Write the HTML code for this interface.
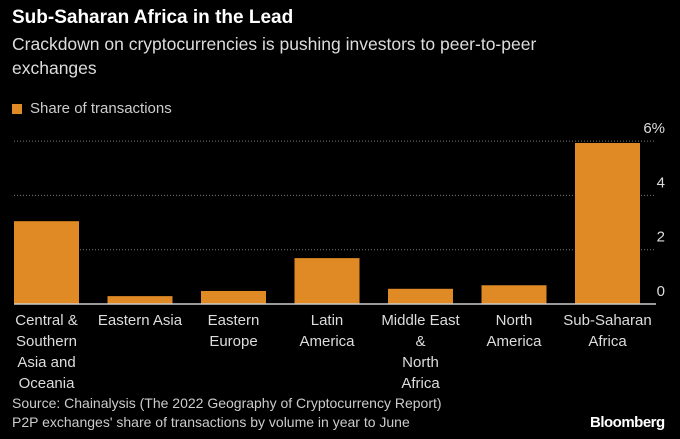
<!DOCTYPE html>
<html><head><meta charset="utf-8"><style>
body{margin:0;background:#000;width:680px;height:439px;overflow:hidden;font-family:"Liberation Sans",sans-serif;color:#ddd}
#wrap{position:relative;width:680px;height:439px}
.t{position:absolute;white-space:nowrap}
</style></head><body><div id="wrap">
<div class="t" style="left:12px;top:7px;font-size:19px;font-weight:bold;color:#fff">Sub-Saharan Africa in the Lead</div>
<div class="t" style="left:12px;top:32px;font-size:17.5px;line-height:24px;color:#ddd">Crackdown on cryptocurrencies is pushing investors to peer-to-peer<br>exchanges</div>
<div style="position:absolute;left:12px;top:104px;width:10px;height:10px;background:#e08a26"></div>
<div class="t" style="left:30px;top:100px;font-size:15px;color:#ccc">Share of transactions</div>
<svg id="c" width="680" height="439" style="position:absolute;left:0;top:0"></svg>
<div class="t" style="left:12px;top:394px;font-size:14px;line-height:19px;color:#ccc">Source: Chainalysis (The 2022 Geography of Cryptocurrency Report)<br>P2P exchanges' share of transactions by volume in year to June</div>
<div class="t" style="left:590px;top:414px;font-size:15px;font-weight:bold;color:#fff;letter-spacing:-0.5px">Bloomberg</div>
</div>
<script>
const categories=[["Central &","Southern","Asia and","Oceania"],["Eastern Asia"],["Eastern","Europe"],["Latin","America"],["Middle East","&","North","Africa"],["North","America"],["Sub-Saharan","Africa"]];
const values=[3.05,0.29,0.48,1.69,0.56,0.69,5.93];
const ticks=[0,2,4,6];
const tickLabels=["0","2","4","6%"];
const NS="http://www.w3.org/2000/svg";
const svg=document.getElementById('c');
const x0=14,x1=656,y0=304,unit=27.15,band=93.5,bw=65;
const y=v=>y0-v*unit;
const xb=i=>x0+i*band;
function mk(t,a){const e=document.createElementNS(NS,t);for(const k in a)e.setAttribute(k,a[k]);svg.appendChild(e);return e;}
ticks.forEach((t,i)=>{
 if(t>0){const l=mk('line',{x1:x0,x2:x1,y1:y(t),y2:y(t),stroke:'#777','stroke-dasharray':'1,2','stroke-width':1});
 
 }
 const tx=mk('text',{x:665,y:y(t)-8,'text-anchor':'end','font-size':15,fill:'#ddd','font-family':'Liberation Sans'});
 tx.textContent=tickLabels[i];
 
 
});
values.forEach((v,i)=>{
 const r=mk('rect',{x:xb(i),y:y(v),width:bw,height:y0-y(v),fill:'#e08a26'});
 
 
 const cx=xb(i)+bw/2;
 const tx=mk('text',{x:cx,y:325,'text-anchor':'middle','font-size':15,fill:'#ddd','font-family':'Liberation Sans'});
 
 
 categories[i].forEach((s,j)=>{const ts=document.createElementNS(NS,'tspan');ts.setAttribute('x',cx);ts.setAttribute('dy',j?21:0);ts.textContent=s;tx.appendChild(ts);});
});
const base=mk('line',{x1:x0,x2:x1,y1:y0,y2:y0,stroke:'#ccc','stroke-width':1.5});


</script></body></html>
